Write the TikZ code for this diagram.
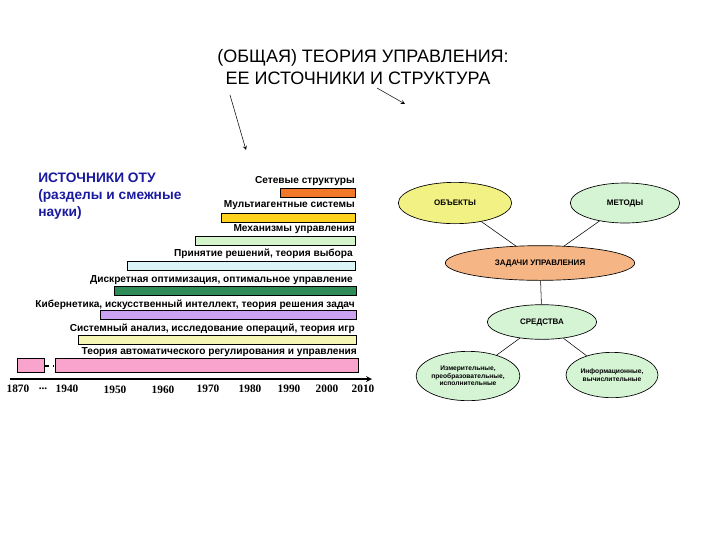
\documentclass[tikz,border=0pt]{standalone}
\usepackage{fontspec}
\setmainfont{Liberation Sans}
\newfontfamily\yearfont{Liberation Serif}
\usetikzlibrary{shapes.geometric}
\definecolor{cOr}{HTML}{F07828}\definecolor{cYe}{HTML}{FFD21E}
\definecolor{cLg}{HTML}{D4F4CC}\definecolor{cCy}{HTML}{DAF4F8}
\definecolor{cDg}{HTML}{2E8B57}\definecolor{cPu}{HTML}{CBA2F2}
\definecolor{cLy}{HTML}{F6F6B4}\definecolor{cPk}{HTML}{F8A4CC}
\definecolor{cBl}{HTML}{1A1AA0}\definecolor{eYe}{HTML}{F2F284}
\definecolor{eGr}{HTML}{D4F4D4}\definecolor{eOr}{HTML}{F5B584}
\begin{document}
\begin{tikzpicture}[x=0.75pt,y=-0.75pt,
 bar/.style={draw=black,line width=0.6pt},
 lab/.style={anchor=east,font=\bfseries\fontsize{7.6}{8}\selectfont,inner sep=0pt},
 yr/.style={font=\yearfont\bfseries\fontsize{8.5}{9}\selectfont,inner sep=0pt},
 ell/.style={ellipse,draw=black,line width=0.5pt,font=\bfseries\fontsize{6}{7}\selectfont,align=center,inner sep=0pt}]
\useasboundingbox (0,0) rectangle (720,540);
\node[font=\fontsize{13.5}{14}\selectfont] (t1) at (363,58) {(ОБЩАЯ) ТЕОРИЯ УПРАВЛЕНИЯ:};
\node[font=\fontsize{13.5}{14}\selectfont] (t2) at (358,78) {ЕЕ ИСТОЧНИКИ И СТРУКТУРА};
\coordinate (a1s) at (230,95); \coordinate (a1e) at (246,150);
\coordinate (a2s) at (377,88); \coordinate (a2e) at (405,104);
\draw[->,>=stealth] (a1s) -- (a1e);
\draw[->,>=stealth] (a2s) -- (a2e);
\node[anchor=west,align=left,text=cBl,font=\bfseries\fontsize{10.3}{13}\selectfont,inner sep=0pt] (src) at (38,196) {ИСТОЧНИКИ ОТУ\\(разделы и смежные\\науки)};
\draw[bar,fill=cOr] (280,188) rectangle (355,197);
\node[lab] (l1) at (355,181) {Сетевые структуры};
\draw[bar,fill=cYe] (221,213) rectangle (355,222);
\node[lab] (l2) at (355,205) {Мультиагентные системы};
\draw[bar,fill=cLg] (195,236) rectangle (355,245);
\node[lab] (l3) at (355,229) {Механизмы управления};
\draw[bar,fill=cCy] (127,261) rectangle (355,270);
\node[lab] (l4) at (353,254) {Принятие решений, теория выбора};
\draw[bar,fill=cDg] (114,286) rectangle (356,295);
\node[lab] (l5) at (353,280) {Дискретная оптимизация, оптимальное управление};
\draw[bar,fill=cPu] (100,310) rectangle (356,319);
\node[lab] (l6) at (355,305) {Кибернетика, искусственный интеллект, теория решения задач};
\draw[bar,fill=cLy] (78,335) rectangle (356,344);
\node[lab] (l7) at (355,329) {Системный анализ, исследование операций, теория игр};
\draw[bar,fill=cPk] (17,358) rectangle (44,372);
\draw[bar,fill=cPk] (55,358) rectangle (358,372);
\draw[dashed,line width=0.8pt] (45,366) -- (54,366);
\node[lab] (l8) at (357,352) {Теория автоматического регулирования и управления};
\coordinate (ax1) at (10,379); \coordinate (ax2) at (372,379);
\draw[->,>=stealth,line width=1pt] (ax1) -- (ax2);
\node[yr] (y1) at (18,389) {1870};
\node[yr] (y2) at (43,389) {...};
\node[yr] (y3) at (67,389) {1940};
\node[yr] (y4) at (115,390) {1950};
\node[yr] (y5) at (163,390) {1960};
\node[yr] (y6) at (208,389) {1970};
\node[yr] (y7) at (250,389) {1980};
\node[yr] (y8) at (289,389) {1990};
\node[yr] (y9) at (327,389) {2000};
\node[yr] (y10) at (363,389) {2010};
\node[ell,fill=eYe,minimum width=85pt,minimum height=31pt] (ob) at (455,203) {ОБЪЕКТЫ};
\node[ell,fill=eGr,minimum width=82pt,minimum height=30pt] (me) at (625,203) {МЕТОДЫ};
\node[ell,fill=eOr,minimum width=142pt,minimum height=26pt] (za) at (540,263) {ЗАДАЧИ УПРАВЛЕНИЯ};
\node[ell,fill=eGr,minimum width=82pt,minimum height=26pt] (sr) at (542,322) {СРЕДСТВА};
\node[ell,fill=eGr,minimum width=68pt,minimum height=37pt,font=\bfseries\fontsize{5}{5.5}\selectfont] (iz) at (468,376) {Измерительные,\\преобразовательные,\\исполнительные};
\node[ell,fill=eGr,minimum width=69pt,minimum height=34pt,font=\bfseries\fontsize{5}{5.5}\selectfont] (in) at (612,375) {Информационные,\\вычислительные};
\draw (ob) -- (za); \draw (me) -- (za); \draw (za) -- (sr);
\draw (sr) -- (iz); \draw (sr) -- (in);
\end{tikzpicture}
\end{document}
